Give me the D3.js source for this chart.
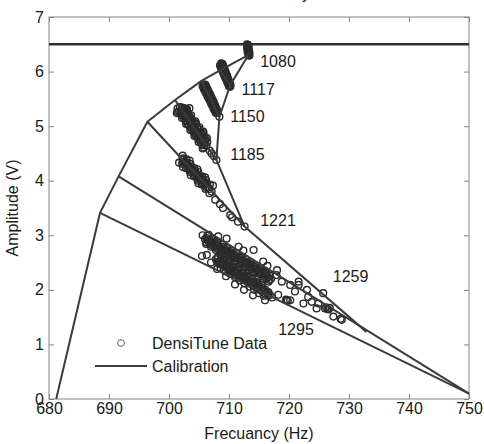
<!DOCTYPE html>
<html>
<head>
<meta charset="utf-8">
<script src="https://cdn.jsdelivr.net/npm/d3@7"></script>
<style>
  body { margin: 0; background: #fff; }
  text { font-family: "Liberation Sans", Arial, sans-serif; }
</style>
</head>
<body>
<svg id="chart" width="484" height="444"></svg>
<script>
// axis ticks
const xTicks = [680, 690, 700, 710, 720, 730, 740, 750];
const yTicks = [0, 1, 2, 3, 4, 5, 6, 7];

// calibration geometry (Hz, V)
const calibrationLevel = 6.5;
const envelope = [[681.2, 0], [688.5, 3.41], [691.6, 4.08], [696.4, 5.08], [701.0, 5.48], [705.4, 5.83], [708.5, 6.02], [713.2, 6.30]];
const innerCurve = [[713.2, 6.30], [710.2, 5.75], [708.4, 5.17], [707.9, 4.38], [712.6, 3.16], [732.9, 1.23]];
const fanFrom = [[708.5, 6.02], [705.4, 5.83], [701.0, 5.48], [696.4, 5.08], [691.6, 4.08], [688.5, 3.41]];
const fanTo = [[710.2, 5.75], [708.4, 5.17], [707.9, 4.38], [712.6, 3.16], [750, 0.1], [750, 0.1]];

// density labels
const densities = [1080, 1117, 1150, 1185, 1221, 1259, 1295];
const labelHz = [715.2, 712.1, 710.2, 710.2, 715.2, 727.3, 718.2];
const labelV = [6.08, 5.57, 5.08, 4.38, 3.17, 2.15, 1.17];

// DensiTune measurements (Hz, V)
const data1080 = [[713.0, 6.50], [713.1, 6.48], [713.2, 6.46], [713.1, 6.44], [713.2, 6.42], [713.3, 6.40], [713.2, 6.38], [713.3, 6.36], [713.4, 6.34], [713.3, 6.32], [713.4, 6.30], [713.1, 6.41],
  [713.15, 6.49], [713.25, 6.45], [713.05, 6.43], [713.35, 6.37], [713.15, 6.35], [713.25, 6.31], [713.35, 6.29], [713.2, 6.47], [713.1, 6.37]];
const data1117 = [[708.7, 6.15], [708.8, 6.12], [708.9, 6.10], [709.0, 6.07], [709.1, 6.04], [709.2, 6.02], [709.3, 5.99], [709.4, 5.96], [709.5, 5.93], [709.6, 5.90], [709.7, 5.87], [709.8, 5.84], [709.9, 5.81], [710.0, 5.78], [710.1, 5.75], [710.2, 5.72], [708.9, 6.14], [709.3, 6.03], [709.7, 5.92], [710.1, 5.79],
  [708.95, 6.13], [709.05, 6.09], [709.2, 6.06], [709.35, 6.01], [709.5, 5.97], [709.65, 5.93], [709.8, 5.88], [709.95, 5.84], [710.1, 5.80], [710.25, 5.75],
  [708.5, 6.11], [708.65, 6.07], [708.8, 6.04], [708.95, 6.00], [709.1, 5.96], [709.25, 5.92], [709.4, 5.88], [709.55, 5.85], [709.7, 5.81], [709.85, 5.77], [710.0, 5.73]];
const data1150 = [[705.8, 5.76], [705.9, 5.73], [706.0, 5.71], [706.1, 5.68], [706.3, 5.65], [706.4, 5.62], [706.5, 5.60], [706.6, 5.57], [706.7, 5.54], [706.9, 5.51], [707.0, 5.48], [707.1, 5.45], [707.2, 5.43], [707.3, 5.40], [707.5, 5.37], [707.6, 5.34], [707.7, 5.31], [707.8, 5.28], [708.0, 5.25], [706.2, 5.71], [706.8, 5.58], [707.4, 5.45], [708.4, 5.17],
  [706.05, 5.76], [706.2, 5.73], [706.35, 5.69], [706.5, 5.66], [706.65, 5.62], [706.8, 5.59], [706.95, 5.55], [707.1, 5.52], [707.25, 5.48], [707.4, 5.44], [707.55, 5.41], [707.7, 5.37], [707.85, 5.33], [708.0, 5.30], [708.15, 5.27],
  [705.6, 5.73], [705.8, 5.68], [706.0, 5.64], [706.2, 5.60], [706.4, 5.55], [706.6, 5.51], [706.8, 5.47], [707.0, 5.42], [707.2, 5.38], [707.4, 5.33], [707.6, 5.29], [707.8, 5.24]];
const data1185 = [[701.83, 5.35], [702.10, 5.30], [702.38, 5.26], [702.66, 5.22], [702.93, 5.17], [703.21, 5.13], [703.48, 5.08], [703.76, 5.04], [704.04, 5.00], [704.31, 4.95], [704.59, 4.91], [704.86, 4.86], [705.14, 4.82], [705.42, 4.78], [705.69, 4.73], [705.97, 4.69], [706.24, 4.64],
  [702.51, 5.33], [703.07, 5.24], [703.62, 5.15], [704.17, 5.06], [704.72, 4.97], [705.27, 4.89], [705.83, 4.80], [706.38, 4.71],
  [702.79, 5.29], [703.34, 5.20], [703.89, 5.11], [704.45, 5.03], [705.00, 4.94], [705.55, 4.85], [706.10, 4.76],
  [701.42, 5.32], [701.97, 5.23], [702.52, 5.14], [703.07, 5.05], [703.63, 4.97], [704.18, 4.88], [704.73, 4.79], [705.28, 4.70], [705.83, 4.61],
  [701.69, 5.27], [702.25, 5.19], [702.80, 5.10], [703.35, 5.01], [703.90, 4.92], [704.45, 4.83], [705.01, 4.75], [705.56, 4.66],
  [702.17, 5.34], [702.72, 5.25], [703.27, 5.17], [703.82, 5.08], [704.37, 4.99], [704.93, 4.90], [705.48, 4.81], [706.03, 4.73],
  [702.04, 5.27], [702.59, 5.18], [703.14, 5.09], [703.69, 5.00], [704.25, 4.91], [704.80, 4.83], [705.35, 4.74], [705.90, 4.65],
  [703.00, 5.31], [703.69, 5.20], [704.38, 5.09], [705.07, 4.98], [705.76, 4.87], [706.31, 4.78],
  [701.48, 5.26], [702.17, 5.15], [702.86, 5.04], [703.55, 4.93], [704.24, 4.82], [704.93, 4.71], [705.62, 4.59],
  [703.4, 5.33], [702.9, 5.30], [704.5, 5.05], [705.7, 4.90], [701.3, 5.24], [706.8, 4.55], [707.1, 4.50], [707.5, 4.45], [707.9, 4.38]];
const data1221 = [[702.23, 4.39], [702.88, 4.31], [703.53, 4.23], [704.18, 4.16], [704.82, 4.08], [705.47, 4.01], [706.12, 3.93], [706.77, 3.85],
  [702.56, 4.35], [703.20, 4.27], [703.85, 4.20], [704.50, 4.12], [705.15, 4.04], [705.80, 3.97], [706.44, 3.89],
  [702.41, 4.41], [703.71, 4.25], [705.00, 4.10], [706.30, 3.95], [703.06, 4.33], [704.36, 4.18], [705.65, 4.03],
  [702.38, 4.33], [703.67, 4.18], [704.97, 4.02], [706.26, 3.87], [703.02, 4.25], [704.32, 4.10], [705.62, 3.95],
  [703.43, 4.37], [704.73, 4.21], [706.02, 4.06], [707.32, 3.91], [702.33, 4.25], [703.63, 4.10], [704.92, 3.95], [701.68, 4.33],
  [702.93, 4.39], [704.22, 4.23], [705.52, 4.08], [706.81, 3.93], [703.57, 4.31], [704.87, 4.16], [706.17, 4.01], [702.28, 4.46],
  [702.19, 4.31], [703.48, 4.16], [704.78, 4.00], [706.07, 3.85], [706.72, 3.77], [702.83, 4.23], [704.13, 4.08], [705.43, 3.93],
  [707.1, 3.80], [707.7, 3.65], [708.5, 3.57], [709.0, 3.50], [710.2, 3.37], [710.5, 3.33], [711.5, 3.25], [712.6, 3.16]];
const data1259 = [[706.0, 2.93], [706.5, 2.90], [707.0, 2.87], [707.5, 2.83], [708.0, 2.80], [708.5, 2.77], [709.0, 2.73], [709.5, 2.70], [710.0, 2.67], [710.5, 2.63], [711.0, 2.60], [711.5, 2.57], [712.0, 2.53], [712.5, 2.50], [713.0, 2.47], [713.5, 2.43], [714.0, 2.40], [714.5, 2.37], [715.0, 2.33], [715.5, 2.30], [716.0, 2.27], [716.5, 2.23], [717.0, 2.20],
  [706.25, 2.95], [706.75, 2.92], [707.25, 2.89], [707.75, 2.85], [708.25, 2.82], [708.75, 2.79], [709.25, 2.75], [709.75, 2.72], [710.25, 2.69], [710.75, 2.66], [711.25, 2.62], [711.75, 2.59], [712.25, 2.56], [712.75, 2.52], [713.25, 2.49], [713.75, 2.46], [714.25, 2.42], [714.75, 2.39], [715.25, 2.36], [715.75, 2.32], [716.25, 2.29], [716.75, 2.26],
  [706.25, 2.87], [706.75, 2.84], [707.25, 2.81], [707.75, 2.77], [708.25, 2.74], [708.75, 2.71], [709.25, 2.67], [709.75, 2.64], [710.25, 2.61], [710.75, 2.58], [711.25, 2.54], [711.75, 2.51], [712.25, 2.48], [712.75, 2.44], [713.25, 2.41], [713.75, 2.38], [714.25, 2.34], [714.75, 2.31], [715.25, 2.28], [715.75, 2.24], [716.25, 2.21], [716.75, 2.18],
  [706.4, 2.99], [707.2, 2.93], [708.0, 2.88], [708.8, 2.83], [709.6, 2.77], [710.4, 2.72], [711.2, 2.67], [712.0, 2.61], [712.8, 2.56], [713.6, 2.51], [714.4, 2.45], [715.2, 2.40], [716.0, 2.35],
  [706.2, 2.84], [707.0, 2.79], [707.8, 2.73], [708.6, 2.68], [709.4, 2.63], [710.2, 2.57], [711.0, 2.52], [711.8, 2.47], [712.6, 2.41], [713.4, 2.36], [714.2, 2.31], [715.0, 2.25], [715.8, 2.20], [716.6, 2.15],
  [705.6, 3.00], [706.6, 3.01], [708.2, 2.98], [709.6, 2.94], [711.6, 2.79], [712.4, 2.72], [714.1, 2.73], [715.7, 2.52], [716.4, 2.44], [718.0, 2.36], [717.9, 2.27], [718.8, 2.15], [720.2, 2.09], [721.6, 2.09], [721.6, 2.15], [723.0, 2.00], [725.7, 1.94],
  [724.6, 1.66], [726.0, 1.66], [726.2, 1.68], [726.4, 1.65], [726.6, 1.64], [726.8, 1.67], [727.4, 1.51], [728.6, 1.47], [728.8, 1.45]];
const data1295 = [[707.8, 2.56], [708.3, 2.52], [708.8, 2.49], [709.3, 2.45], [709.8, 2.42], [710.3, 2.38], [710.8, 2.34], [711.3, 2.31], [711.8, 2.27], [712.3, 2.24], [712.8, 2.20], [713.3, 2.16], [713.8, 2.13], [714.3, 2.09], [714.8, 2.06], [715.3, 2.02], [715.8, 1.98], [716.3, 1.95], [716.8, 1.91],
  [708.05, 2.58], [708.55, 2.54], [709.05, 2.51], [709.55, 2.47], [710.05, 2.43], [710.55, 2.40], [711.05, 2.36], [711.55, 2.32], [712.05, 2.29], [712.55, 2.25], [713.05, 2.22], [713.55, 2.18], [714.05, 2.14], [714.55, 2.11], [715.05, 2.07], [715.55, 2.04], [716.05, 2.00], [716.55, 1.96],
  [708.05, 2.51], [708.55, 2.47], [709.05, 2.44], [709.55, 2.40], [710.05, 2.36], [710.55, 2.33], [711.05, 2.29], [711.55, 2.25], [712.05, 2.22], [712.55, 2.18], [713.05, 2.15], [713.55, 2.11], [714.05, 2.07], [714.55, 2.04], [715.05, 2.00], [715.55, 1.97], [716.05, 1.93], [716.55, 1.89],
  [708.2, 2.60], [709.0, 2.54], [709.8, 2.49], [710.6, 2.43], [711.4, 2.37], [712.2, 2.32], [713.0, 2.26], [713.8, 2.20], [714.6, 2.14], [715.4, 2.09],
  [708.6, 2.40], [709.4, 2.34], [710.2, 2.29], [711.0, 2.23], [711.8, 2.17], [712.6, 2.12], [713.4, 2.06], [714.2, 2.00], [715.0, 1.94], [715.8, 1.89],
  [705.5, 2.62], [706.3, 2.64], [707.0, 2.50], [708.0, 2.38], [709.5, 2.25], [711.0, 2.10], [712.5, 2.00], [714.0, 1.90], [716.0, 1.81], [717.2, 1.86], [718.2, 1.91], [719.5, 1.82], [719.6, 1.81], [719.8, 1.80], [720.2, 1.81], [721.0, 1.97], [722.4, 1.75], [723.2, 1.87], [723.8, 1.78], [724.9, 1.75]];

const measurements = [data1080, data1117, data1150, data1185, data1221, data1259, data1295];

const width = 484, height = 444;
const margin = { top: 17, right: 15, bottom: 45, left: 49 };
const plotW = width - margin.left - margin.right;
const plotH = height - margin.top - margin.bottom;

const x = d3.scaleLinear().domain([680, 750]).range([0, plotW]);
const y = d3.scaleLinear().domain([0, 7]).range([plotH, 0]);

const svg = d3.select("#chart");
const g = svg.append("g").attr("transform", `translate(${margin.left},${margin.top})`);

// clipped title remnant at the very top
svg.append("text").attr("x", 302).attr("y", -1).attr("font-size", 16).attr("fill", "#222").text("y");

const frameColor = "#858585";

function styleAxis(sel) {
  sel.select(".domain").remove();
  sel.selectAll(".tick line").attr("stroke", frameColor);
  sel.selectAll(".tick text").attr("fill", "#1a1a1a").attr("font-size", 16)
    .style("font-family", "'Liberation Sans', Arial, sans-serif");
}

g.append("g").attr("transform", `translate(0,${plotH})`)
  .call(d3.axisBottom(x).tickValues(xTicks).tickFormat(d3.format("d")).tickSizeInner(-5).tickSizeOuter(0).tickPadding(4))
  .call(styleAxis);
g.append("g")
  .call(d3.axisTop(x).tickValues(xTicks).tickSizeInner(-5).tickSizeOuter(0).tickFormat(""))
  .call(styleAxis);
g.append("g")
  .call(d3.axisLeft(y).tickValues(yTicks).tickFormat(d3.format("d")).tickSizeInner(-5).tickSizeOuter(0).tickPadding(5))
  .call(styleAxis);
g.append("g").attr("transform", `translate(${plotW},0)`)
  .call(d3.axisRight(y).tickValues(yTicks).tickSizeInner(-5).tickSizeOuter(0).tickFormat(""))
  .call(styleAxis);

g.append("rect").attr("width", plotW).attr("height", plotH)
  .attr("fill", "none").attr("stroke", frameColor).attr("stroke-width", 1);

// measured points
const pts = g.append("g").attr("fill", "none").attr("stroke", "#2b2b2b").attr("stroke-width", 1.4);
measurements.forEach(set => {
  pts.selectAll(null).data(set).enter().append("circle")
    .attr("cx", d => x(d[0])).attr("cy", d => y(d[1])).attr("r", 3.4);
});

// calibration lines
const line = d3.line().x(d => x(d[0])).y(d => y(d[1]));
const calib = g.append("g").attr("fill", "none").attr("stroke", "#3b3b3b").attr("stroke-width", 2)
  .attr("stroke-linejoin", "round");
calib.append("path").attr("d", line(envelope));
calib.append("path").attr("d", line(innerCurve));
fanFrom.forEach((p, i) => calib.append("path").attr("d", line([p, fanTo[i]])));
g.append("line").attr("x1", x(680)).attr("x2", x(750)).attr("y1", y(calibrationLevel)).attr("y2", y(calibrationLevel))
  .attr("stroke", "#303030").attr("stroke-width", 2.5);

// density labels
g.selectAll(".dlabel").data(densities).enter().append("text")
  .attr("class", "dlabel")
  .attr("x", (d, i) => x(labelHz[i])).attr("y", (d, i) => y(labelV[i]))
  .attr("font-size", 16).attr("fill", "#1a1a1a").text(d => d);

// legend
const lg = g.append("g").attr("transform", "translate(46,326)");
lg.append("circle").attr("cx", 26).attr("cy", 0).attr("r", 3.4).attr("fill", "none").attr("stroke", "#555").attr("stroke-width", 0.9);
lg.append("text").attr("x", 57).attr("y", 6).attr("font-size", 16).attr("fill", "#1a1a1a").text("DensiTune Data");
lg.append("line").attr("x1", 0).attr("x2", 52).attr("y1", 23).attr("y2", 23).attr("stroke", "#3b3b3b").attr("stroke-width", 2);
lg.append("text").attr("x", 57).attr("y", 29).attr("font-size", 16).attr("fill", "#1a1a1a").text("Calibration");

// axis titles
g.append("text").attr("x", plotW / 2).attr("y", plotH + 40).attr("text-anchor", "middle")
  .attr("font-size", 16).attr("fill", "#1a1a1a").text("Frecuancy (Hz)");
g.append("text").attr("transform", `translate(${-31},${plotH / 2}) rotate(-90)`).attr("text-anchor", "middle")
  .attr("font-size", 16).attr("fill", "#1a1a1a").text("Amplitude (V)");
</script>
</body>
</html>
